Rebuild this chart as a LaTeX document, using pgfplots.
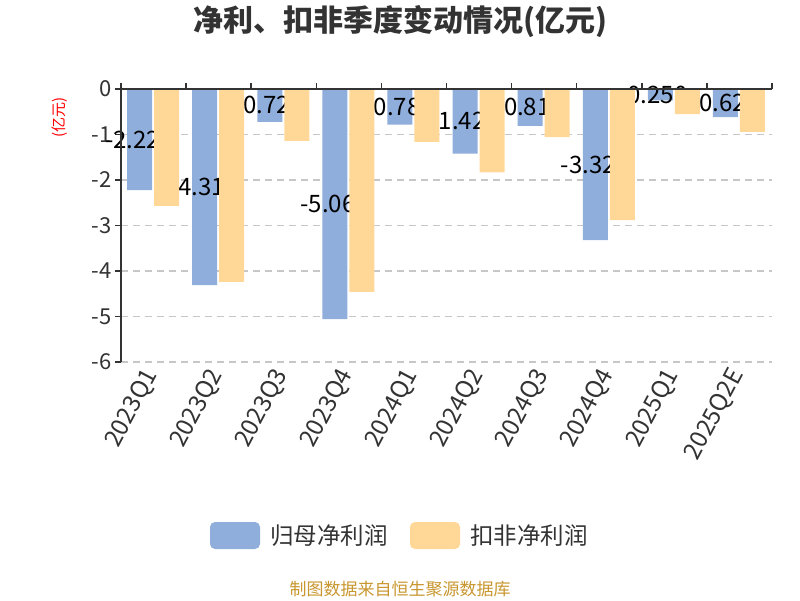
\documentclass[border=0pt]{standalone}
\usepackage{pgfplots}
\pgfplotsset{compat=1.18}
\usepackage{fontspec}
\setmainfont{Noto Sans CJK SC}
\definecolor{cblue}{HTML}{8FAEDB}
\definecolor{corange}{HTML}{FFD898}
\definecolor{ctext}{HTML}{333333}
\definecolor{cfoot}{HTML}{C8962E}
\begin{document}
\begin{tikzpicture}[x=1pt,y=1pt]
\begin{axis}[
    set layers,
    at={(121pt,-362pt)}, anchor=south west,
    scale only axis, width=651pt, height=273pt,
    xmin=-0.5, xmax=9.5, ymin=-6, ymax=0,
    clip=false,
    axis line style={draw=none},
    /pgf/number format/assume math mode=true,
    xtick={0,...,9},
    xticklabels={2023Q1,2023Q2,2023Q3,2023Q4,2024Q1,2024Q2,2024Q3,2024Q4,2025Q1,2025Q2E},
    minor xtick={-0.5,0.5,...,9.5},
    xtick pos=right, xticklabel pos=left,
    major x tick style={draw=none},
    ytick={-6,-5,-4,-3,-2,-1,0},
    ytick pos=left,
    tick align=outside,
    major tick length=6pt, minor tick length=6pt,
    tick style={color=ctext, line width=1.5pt},
    ymajorgrids,
    grid style={color=black!22, line width=1.2pt, dash pattern=on 7pt off 5pt},
    xticklabel style={rotate=62, anchor=east, font=\fontsize{24}{28}\selectfont, text=ctext},
    yticklabel style={font=\fontsize{22}{26}\selectfont, text=ctext},
]
\addplot[ybar, bar width=25pt, bar shift=-14pt, fill=cblue, draw=none,
    point meta=explicit symbolic, nodes near coords,
    nodes near coords align={center},
    visualization depends on={y \as \rawy},
    every node near coord/.append style={anchor=center, yshift={-0.5*\rawy*45.5pt}, xshift=-21pt,
        font=\fontsize{24}{28}\selectfont, text=black}]
coordinates {
    (0,-2.22) [-2.22]
    (1,-4.31) [-4.31]
    (2,-0.72) [-0.72]
    (3,-5.06) [-5.06]
    (4,-0.78) [-0.78]
    (5,-1.42) [-1.42]
    (6,-0.81) [-0.81]
    (7,-3.32) [-3.32]
    (8,-0.25) [-0.250]
    (9,-0.62) [-0.62]
};
\addplot[ybar, bar width=25pt, bar shift=13pt, fill=corange, draw=none, on layer=axis foreground]
coordinates {
    (0,-2.57) (1,-4.24) (2,-1.14) (3,-4.46) (4,-1.16)
    (5,-1.83) (6,-1.06) (7,-2.88) (8,-0.55) (9,-0.94)
};
\begin{pgfonlayer}{axis foreground}
\draw[ctext, line width=1.5pt] (axis cs:-0.5,0) -- (axis cs:9.5,0);
\draw[ctext, line width=1.5pt] (axis cs:-0.5,0) -- (axis cs:-0.5,-6);
\end{pgfonlayer}
\end{axis}
\node[font=\bfseries\fontsize{30}{34}\selectfont, text=ctext] at (400,-22) {净利、扣非季度变动情况(亿元)};
\node[rotate=90, text=red, font=\fontsize{15}{18}\selectfont] at (60,-117) {(亿元)};
\fill[cblue, rounded corners=5pt] (210,-522) rectangle (260,-549);
\node[anchor=west, inner sep=0pt, text=ctext, font=\fontsize{23.5}{27}\selectfont] at (270,-535.5) {归母净利润};
\fill[corange, rounded corners=5pt] (410,-522) rectangle (460,-549);
\node[anchor=west, inner sep=0pt, text=ctext, font=\fontsize{23.5}{27}\selectfont] at (470,-535.5) {扣非净利润};
\node[text=cfoot, font=\fontsize{17}{20}\selectfont] at (400,-589) {制图数据来自恒生聚源数据库};
\pgfresetboundingbox
\path[use as bounding box] (0,0) rectangle (800,-600);
\end{tikzpicture}
\end{document}
